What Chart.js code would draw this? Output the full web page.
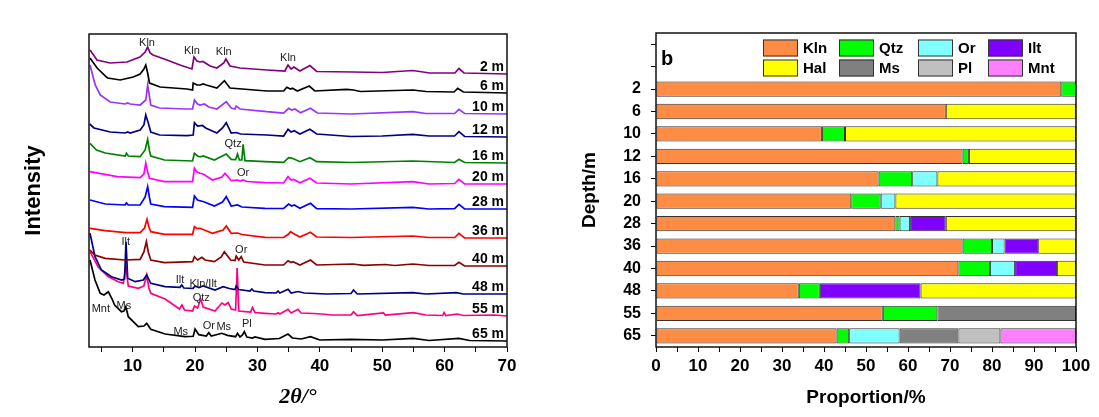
<!DOCTYPE html>
<html>
<head>
<meta charset="utf-8">
<script src="https://cdn.jsdelivr.net/npm/chart.js@4.4.1/dist/chart.umd.min.js"></script>
<style>
body { margin: 0; background: #fff; }
#wrap { position: relative; width: 1099px; height: 417px; }
#xrd { position: absolute; left: 0; top: 0; }
#bars { position: absolute; left: 540px; top: 0; }
</style>
</head>
<body>
<div id="wrap">
<canvas id="xrd" width="540" height="417"></canvas>
<canvas id="bars" width="559" height="417"></canvas>
</div>
<script>
// ---- panel a : XRD patterns, [2theta, intensity above own baseline] ----
var xrdNames = ['2 m', '6 m', '10 m', '12 m', '16 m', '20 m', '28 m', '36 m', '40 m', '48 m', '55 m', '65 m'];
var xrdOffsets = [273, 254, 233, 210, 184, 163, 138, 109, 81, 53, 31, 6];
var xrdColors = ['#800080', '#000000', '#9933FF', '#000080', '#008000', '#FF00FF',
                 '#0000FF', '#FF0000', '#8B0000', '#000080', '#FF0080', '#000000'];
var xTicks = [5, 10, 15, 20, 25, 30, 35, 40, 45, 50, 55, 60, 65, 70];

var xrd2m = [[3.16,24],[4.28,14],[6.37,11],[9.09,12],[11.17,17],[12.0,22],[12.4,27],[12.8,21],[13.26,19],[15.5,14],[17.58,9],[19.5,5],[19.83,17],[20.3,13],[20.8,12],[21.27,12.5],[22.4,8],[23.5,6],[24.6,11],[24.95,15],[25.6,8],[27.2,6],[31.5,4],[34.4,3],[34.9,9],[35.4,5],[35.85,7],[36.8,3],[38.4,8.5],[39.5,2.5],[45.3,2],[50,1.5],[54.9,3.5],[57.6,1],[61.65,1],[62.3,5.5],[63.1,1],[70,0]];
var xrd6m = [[3.16,35],[4.3,25],[5.8,16],[6.0,15],[8.0,13],[10.1,16],[11.2,19],[11.8,24],[12.1,28],[12.4,20],[12.7,10],[14.4,6],[18.7,4],[19.6,3],[19.7,10],[20.3,8],[20.8,8],[21.3,9],[21.8,8],[23.5,5],[24.7,12.3],[25.6,5],[31.5,2],[34.2,2],[34.7,5.7],[35.3,4],[35.6,4.7],[36.4,2],[38.3,7],[39.2,2],[44.3,3.7],[45.4,3],[46.5,1.5],[54.9,3],[57,1.5],[61.5,1],[62.1,4.7],[63,1],[70,0]];
var xrd10m = [[3.16,49],[4.0,29],[4.8,19],[6.4,12],[8.8,10],[9.2,11],[9.6,10],[11.2,9],[12.1,14],[12.4,29],[12.9,9],[14.3,6],[18.7,5],[19.6,5],[19.9,14],[20.4,10],[20.8,9],[21.5,10],[22.2,7],[23.5,5],[25.0,12.3],[25.8,6],[26.4,5],[26.6,8],[27.2,5],[31.5,2.3],[34.2,1],[35.0,5.7],[35.5,4],[36.0,5],[36.9,1.3],[38.5,5.7],[39.6,1],[45,0],[54.9,2.3],[57,0.5],[61.6,0.5],[62.3,4.7],[63.2,0.5],[70,0]];
var xrd12m = [[3.1,13],[3.8,9],[6.4,5],[8.8,4],[9.2,5],[9.6,4],[11.2,7],[11.8,12],[12.1,22],[12.5,14],[12.9,5],[14.3,2],[18.7,1.3],[19.7,2],[19.9,14.3],[20.4,11],[21.2,11.5],[21.7,9],[23.5,4],[24.4,9],[25.0,14.3],[25.8,4],[26.6,4.5],[27.3,3],[31.5,2],[34.2,1],[34.9,7.7],[35.4,5],[35.9,6.3],[36.8,3],[38.4,7.7],[39.5,3],[45,0.5],[50,1],[54.9,2.7],[57.5,1],[61.6,1],[62.3,5.3],[63.2,0.5],[70,0]];
var xrd16m = [[3.16,19.7],[4.2,13],[5.6,10],[8.8,7],[9.0,9.7],[9.3,7],[11.2,6.3],[12.0,13],[12.4,23.7],[12.7,12],[12.9,7],[15.1,3],[19.6,2],[19.9,9.7],[20.5,6.5],[20.9,6.3],[21.3,7],[23.1,3],[25.0,9],[25.8,3.7],[26.5,3.5],[26.8,9],[27.1,3],[27.5,3],[27.7,18.7],[28.0,2.3],[31.2,1.3],[34.2,0.7],[35.0,5.3],[35.6,4.7],[36.8,1.3],[38.4,5.3],[39.5,1.3],[45,0.5],[54.9,2],[61.6,0.5],[62.3,3.7],[63.2,0.5],[70,0]];
var xrd20m = [[3.16,12.3],[7.5,7.3],[11.2,6.3],[11.8,10],[12.1,20.7],[12.4,12],[12.7,5.7],[15.1,2.3],[19.6,2.3],[19.9,15.7],[20.3,12],[20.8,10.7],[21.3,10],[22.8,4],[24.3,7],[24.8,10.7],[25.8,3.3],[26.8,4],[27.3,3],[27.7,4],[28.3,2.5],[31.2,1.3],[34.2,1],[34.9,7.3],[35.4,4],[35.8,4.5],[36.8,1.3],[38.4,5.7],[39.5,1],[45,0],[54.9,2.3],[57.5,0],[61.6,0.5],[62.3,4.7],[63.2,0],[70,0]];
var xrd28m = [[3.16,9],[5.6,5],[8.8,4],[9.0,6],[9.3,4],[11.2,4],[12.0,12],[12.4,22.3],[12.7,11],[12.9,5],[15.1,2.3],[19.6,1.7],[19.9,13],[20.4,9],[20.8,8.3],[21.4,7.3],[23.1,3],[24.4,7],[25.0,12.3],[25.8,3],[26.8,4],[27.5,2],[31.2,0.7],[34.2,0.5],[35.0,5],[35.5,3],[35.9,4],[36.8,0.7],[38.5,5.7],[39.5,0.3],[45,0],[54.9,1.7],[57.5,0],[61.6,0.3],[62.3,4.7],[63.2,0],[70,0]];
var xrd36m = [[3.16,9.7],[5.6,7.3],[8.8,5.3],[11.2,5.3],[11.9,10],[12.3,18.7],[12.6,11],[12.9,6.3],[15.1,3.7],[19.6,3.7],[19.9,11.3],[20.3,9.5],[20.8,9.7],[22.8,4.7],[24.5,8],[25.0,12],[25.8,4.7],[26.8,5],[27.5,3.5],[31.2,0.7],[34.2,0.5],[35.0,4],[35.3,6.3],[35.7,4.7],[36.8,1],[38.5,5.7],[39.5,1],[45,0.5],[54.9,2],[57.5,0.5],[61.6,0.5],[62.3,4.7],[63.2,0],[70,0]];
var xrd40m = [[3.16,16],[3.9,11],[5.6,7.7],[8.8,6],[11.2,6.7],[11.8,14],[12.2,24.3],[12.5,14],[12.9,6],[15.1,3.3],[19.6,4.3],[19.9,9.3],[20.4,6],[21.1,8.7],[21.6,6],[23.1,4.3],[24.2,9],[24.7,14.3],[25.7,6],[26.4,5.5],[26.6,10],[27.0,6],[27.4,9.3],[27.8,4],[31.2,1],[34.2,1],[34.9,5.3],[35.4,3.5],[35.7,4.3],[36.8,1],[38.5,6],[39.5,1],[45.3,2],[47,0.7],[50.5,1.5],[52,0.5],[54.9,2],[57.5,0.5],[61.6,0.5],[62.3,3.7],[63.2,0],[70,0]];
var xrd48m = [[3.16,60.7],[3.96,37.3],[5.0,24],[6.6,17.3],[8.24,14],[8.7,15],[8.93,52.3],[9.2,15.7],[10.4,12.3],[11.7,14],[12.25,19],[12.9,10.7],[15.2,7.3],[17.58,6.7],[17.86,9],[18.2,6],[19.7,5.7],[20.0,8],[20.6,6.5],[21.3,8],[23.2,4],[24.5,7.3],[25.5,5.5],[26.4,4.5],[26.6,8],[27.0,4.5],[28.8,3],[29.1,5],[29.4,3],[31.2,1.3],[33.0,1],[33.3,3],[33.6,1],[34.9,4.7],[35.4,1],[36.5,2.5],[37.5,1],[41,0],[45.0,0.5],[45.4,4],[46.0,0],[54.9,1.3],[57,0],[61.9,1.3],[63,0],[70,0]];
var xrd55m = [[3.16,64.3],[4.5,48.7],[6.1,39.3],[7.7,34.3],[8.5,32.7],[8.9,50],[9.3,30],[10.9,27.7],[11.8,30],[12.25,41],[12.6,28],[12.9,22.7],[15.2,17],[17.5,7],[17.9,11],[18.3,6],[19.6,5],[19.9,10],[20.4,8],[20.9,17],[21.3,9],[23.2,5],[24.3,13],[24.8,11],[25.3,13.5],[25.8,7],[26.5,6],[26.75,48],[27.0,5],[28.9,4],[29.2,8.5],[29.6,3.5],[31.2,2.7],[33.0,2],[33.3,3.3],[33.6,2],[34.9,6.7],[35.4,3],[36.5,6.7],[37,3],[39,2.5],[40.3,2],[42,1],[45.0,1],[45.4,4.3],[46,0.5],[50.2,3],[50.5,1],[55,3.3],[57,1],[59.7,0.5],[59.9,3.5],[60.2,0.5],[62,2],[63,0.5],[68,1],[70,0]];
var xrd65m = [[3.16,81],[3.96,61],[4.8,47.7],[5.4,46],[6.1,49.3],[6.7,42],[7.1,36],[8.2,29.3],[8.6,30],[8.9,34.3],[9.3,24.3],[10.9,14.3],[11.8,15],[12.25,17.7],[12.9,11.7],[15.2,7],[18.4,4.3],[19.7,4.7],[20.0,12],[20.6,6.3],[21.8,5],[22.2,8.3],[22.6,5],[24.3,7.7],[25.2,5.7],[26.5,4.3],[26.8,7.7],[27.2,4],[27.6,6],[27.9,9.3],[28.3,4],[29.2,3],[29.6,4],[31.2,1.7],[33.5,2.5],[34.9,7],[35.6,3],[37,2],[38.5,4.3],[40,1],[45,1.7],[50,1],[55,2.7],[57.5,0.5],[62.3,2.7],[64,0.5],[70,0]];
var xrdSeries = [xrd2m, xrd6m, xrd10m, xrd12m, xrd16m, xrd20m, xrd28m, xrd36m, xrd40m, xrd48m, xrd55m, xrd65m];

// phase labels on the patterns: text, 2theta, height on the plot
var peakText = ['Kln', 'Kln', 'Kln', 'Kln', 'Qtz', 'Or', 'Ilt', 'Or', 'Ilt', 'Kln/Ilt', 'Qtz', 'Mnt', 'Ms', 'Ms', 'Or', 'Ms', 'Pl'];
var peakX = [12.3, 19.5, 24.6, 34.9, 26.1, 27.7, 8.9, 27.4, 17.6, 21.3, 21.0, 4.9, 8.6, 17.7, 22.2, 24.6, 28.3];
var peakY = [304, 296, 295, 289, 203, 174, 105, 97, 67, 63, 49, 38, 41, 15, 21, 20, 23];

// ---- panel b : mineral proportions (%) per depth ----
var depths = ['2', '6', '10', '12', '16', '20', '28', '36', '40', '48', '55', '65'];
var minerals = ['Kln', 'Qtz', 'Or', 'Ilt', 'Hal', 'Ms', 'Pl', 'Mnt'];
var kln = [96.5, 69, 39.5, 73, 53, 46.5, 57, 73, 72, 34, 54, 43];
var qtz = [3.5, null, 5.5, 1.5, 8, 7, 1, 7, 7.5, 5, 13, 3];
var orth = [null, null, null, null, 6, 3.5, 2.5, 3, 6, null, null, 12];
var ilt = [null, null, null, null, null, null, 8.5, 8, 10, 24, null, null];
var hal = [null, 31, 55, 25.5, 33, 43, 31, 9, 4.5, 37, null, null];
var ms = [null, null, null, null, null, null, null, null, null, null, 33, 14];
var pl = [null, null, null, null, null, null, null, null, null, null, null, 10];
var mnt = [null, null, null, null, null, null, null, null, null, null, null, 18];
var barTicks = [0, 5, 10, 15, 20, 25, 30, 35, 40, 45, 50, 55, 60, 65, 70, 75, 80, 85, 90, 95, 100];
var mineralColors = ['#FF8C45', '#00FF00', '#80FFFF', '#8000FF', '#FFFF00', '#808080', '#C0C0C0', '#FF80FF'];

Chart.defaults.font.family = '"Liberation Sans", Arial, sans-serif';
Chart.defaults.color = '#000';

var tickFont = { size: 17, weight: 'bold' };

var framePlugin = {
    id: 'frame',
    afterDraw: function (chart) {
        var a = chart.chartArea, c = chart.ctx;
        c.save();
        c.strokeStyle = '#111';
        c.lineWidth = 1.5;
        c.strokeRect(a.left, a.top, a.right - a.left, a.bottom - a.top);
        c.restore();
    }
};

var xrdLabels = {
    id: 'xrdLabels',
    afterDatasetsDraw: function (chart) {
        var c = chart.ctx, a = chart.chartArea, xs = chart.scales.x, ys = chart.scales.y;
        c.save();
        c.fillStyle = '#000';
        c.font = 'bold 14px "Liberation Sans"';
        c.textAlign = 'right';
        c.textBaseline = 'alphabetic';
        for (var i = 0; i < xrdNames.length; i++) {
            c.fillText(xrdNames[i], a.right - 3, ys.getPixelForValue(xrdOffsets[i]) - 3);
        }
        c.font = '11px "Liberation Sans"';
        c.fillStyle = '#222';
        c.textAlign = 'center';
        c.textBaseline = 'middle';
        for (var j = 0; j < peakText.length; j++) {
            c.fillText(peakText[j], xs.getPixelForValue(peakX[j]), ys.getPixelForValue(peakY[j]));
        }
        c.restore();
    }
};

var barLegend = {
    id: 'barLegend',
    afterDraw: function (chart) {
        var a = chart.chartArea, c = chart.ctx;
        var colX = [107, 183, 262, 332];
        c.save();
        chart.data.datasets.forEach(function (ds, i) {
            var x = a.left + colX[i % 4], y = a.top + 6.5 + Math.floor(i / 4) * 20;
            c.fillStyle = ds.backgroundColor;
            c.fillRect(x, y, 35, 17);
            c.strokeStyle = '#333';
            c.lineWidth = 1;
            c.strokeRect(x + 0.5, y + 0.5, 34, 16);
            c.fillStyle = '#000';
            c.font = 'bold 15px "Liberation Sans"';
            c.textBaseline = 'middle';
            c.textAlign = 'left';
            c.fillText(ds.label, x + 40, y + 9);
        });
        c.font = 'bold 20px "Liberation Sans"';
        c.textBaseline = 'alphabetic';
        c.fillText('b', a.left + 5, a.top + 32);
        c.restore();
    }
};

new Chart(document.getElementById('xrd'), {
    type: 'line',
    data: {
        datasets: xrdSeries.map(function (pts, i) {
            return {
                label: xrdNames[i],
                data: pts.map(function (p) { return { x: p[0], y: p[1] + xrdOffsets[i] }; }),
                borderColor: xrdColors[i],
                borderWidth: 1.7,
                pointRadius: 0,
                tension: 0,
                fill: false
            };
        })
    },
    options: {
        responsive: false,
        animation: false,
        devicePixelRatio: 1,
        layout: { padding: { top: 34, right: 33, left: 0, bottom: 0 } },
        plugins: { legend: { display: false }, tooltip: { enabled: false } },
        scales: {
            x: {
                type: 'linear', min: 3, max: 70,
                afterBuildTicks: function (s) { s.ticks = xTicks.map(function (v) { return { value: v }; }); },
                ticks: { autoSkip: false, maxRotation: 0, padding: 4, font: tickFont,
                         callback: function (v) { return v % 10 === 0 ? v : ''; } },
                grid: { drawOnChartArea: false, tickLength: 5, color: '#000' },
                border: { display: false },
                title: { display: true, text: '2θ/°', color: '#000',
                         font: { family: '"Liberation Serif", serif', style: 'italic', weight: 'bold', size: 22 },
                         padding: { top: 0, bottom: 6 } },
                afterFit: function (s) { s.height = 70; }
            },
            y: {
                min: 0, max: 313,
                ticks: { display: false },
                grid: { display: false },
                border: { display: false },
                title: { display: true, text: 'Intensity', font: { size: 22, weight: 'bold' }, padding: { top: 21 } },
                afterFit: function (s) { s.width = 89; }
            }
        }
    },
    plugins: [framePlugin, xrdLabels]
});

var mineralData = [kln, qtz, orth, ilt, hal, ms, pl, mnt];

new Chart(document.getElementById('bars'), {
    type: 'bar',
    data: {
        labels: ['', ''].concat(depths),
        datasets: minerals.map(function (m, i) {
            return {
                label: m,
                data: [null, null].concat(mineralData[i]),
                backgroundColor: mineralColors[i],
                borderColor: '#333',
                borderWidth: 1,
                borderSkipped: false,
                barPercentage: 0.68,
                categoryPercentage: 1
            };
        })
    },
    options: {
        indexAxis: 'y',
        responsive: false,
        animation: false,
        devicePixelRatio: 1,
        layout: { padding: { top: 33, right: 23, left: 0, bottom: 0 } },
        plugins: { legend: { display: false }, tooltip: { enabled: false } },
        scales: {
            x: {
                stacked: true, min: 0, max: 100,
                afterBuildTicks: function (s) { s.ticks = barTicks.map(function (v) { return { value: v }; }); },
                ticks: { autoSkip: false, maxRotation: 0, padding: 4, font: tickFont,
                         callback: function (v) { return v % 10 === 0 ? v : ''; } },
                grid: { drawOnChartArea: false, tickLength: 5, color: '#000' },
                border: { display: false },
                title: { display: true, text: 'Proportion/%', font: { size: 19, weight: 'bold' }, padding: { top: 0, bottom: 8 } },
                afterFit: function (s) { s.height = 70; }
            },
            y: {
                stacked: true,
                ticks: { autoSkip: false, padding: 10, font: { size: 16, weight: 'bold' } },
                grid: { drawOnChartArea: false, offset: false, tickLength: 5, color: '#000' },
                border: { display: false },
                title: { display: true, text: 'Depth/m', font: { size: 19, weight: 'bold' }, padding: { top: 38 } },
                afterFit: function (s) { s.width = 116; }
            }
        }
    },
    plugins: [framePlugin, barLegend]
});
</script>
</body>
</html>
